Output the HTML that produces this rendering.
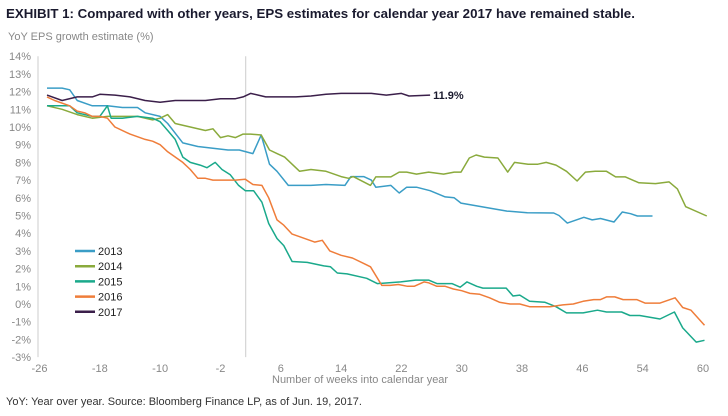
<!DOCTYPE html>
<html><head><meta charset="utf-8"><style>
body{margin:0;background:#fff;font-family:"Liberation Sans",sans-serif;}
#wrap{position:relative;width:728px;height:416px;overflow:hidden}
.t{position:absolute;white-space:nowrap}
</style></head><body>
<div id="wrap">
<div class="t" style="left:6px;top:6px;font-size:13.3px;font-weight:bold;color:#1a1a2e">EXHIBIT 1: Compared with other years, EPS estimates for calendar year 2017 have remained stable.</div>
<div class="t" style="left:8px;top:31px;font-size:11px;color:#888">YoY EPS growth estimate (%)</div>
<div class="t" style="left:272px;top:374px;font-size:11px;color:#888">Number of weeks into calendar year</div>
<div class="t" style="left:6px;top:396px;font-size:11px;color:#333">YoY: Year over year. Source: Bloomberg Finance LP, as of Jun. 19, 2017.</div>
<svg id="svg" width="728" height="416" style="position:absolute;left:0;top:0"></svg>
</div>
<script>
const yTicks=[14,13,12,11,10,9,8,7,6,5,4,3,2,1,0,-1,-2,-3];
const xTicks=[-26,-18,-10,-2,6,14,22,30,38,46,54,62];
const xTickLabels=["-26","-18","-10","-2","6","14","22","30","38","46","54","60"];
const seriesNames=["2013","2014","2015","2016","2017"];
const w2013=[-25,-23,-22,-21,-19,-17,-15,-13,-12,-10,-9,-7,-5,-3,-1,0.5,2.3,3.4,4.5,5.5,7,10,12,14.5,15.3,17,18,18.6,20.6,21.7,22.7,24,25.8,27.8,29,29.9,33.9,36,38.7,42.2,42.9,44,46.2,47.3,48.4,50.2,51.3,52.4,53.3,55.3];
const v2013=[12.2,12.2,12.1,11.5,11.2,11.2,11.1,11.1,10.8,10.6,10.2,9.1,8.9,8.8,8.7,8.7,8.5,9.55,7.9,7.5,6.7,6.7,6.75,6.7,7.2,7.2,7.0,6.6,6.7,6.27,6.6,6.6,6.4,6.05,6.0,5.7,5.4,5.25,5.15,5.14,5.0,4.57,4.9,4.75,4.83,4.63,5.2,5.1,4.97,4.97];
const w2014=[-25,-23,-21,-19,-17,-15,-13,-11,-10,-9,-8,-6,-4,-3,-2,-1,0,1,2,3.4,4.5,5.5,6.5,8.5,10,12,14,15,15.6,17,17.9,18.6,20.6,21.7,22.7,24,25.6,27.6,29,29.9,31,31.9,33,34.8,36.1,37,38.8,40.1,41.2,42.5,43.9,45.3,46.4,47.7,49.2,50.4,51.7,53.5,55.7,57.5,58.6,59.7,62.5];
const v2014=[11.2,11.0,10.7,10.5,10.6,10.6,10.6,10.4,10.5,10.7,10.2,10.0,9.8,9.9,9.4,9.5,9.4,9.6,9.6,9.55,8.7,8.5,8.3,7.5,7.6,7.5,7.2,7.1,7.2,6.9,6.7,7.18,7.18,7.45,7.45,7.34,7.45,7.34,7.45,7.45,8.25,8.42,8.3,8.25,7.45,8.0,7.9,7.9,8.0,7.85,7.5,6.95,7.45,7.5,7.5,7.18,7.18,6.85,6.8,6.9,6.5,5.5,4.97];
const w2015=[-25,-22,-21,-19,-18,-17,-16.5,-15,-13,-11,-10,-9,-8,-7,-6,-4.7,-3.8,-2.7,-1.8,-0.7,0.4,1.3,2.4,3.5,4.4,5.5,6.4,7.5,9.5,11.7,12.6,13.5,14.8,17.4,18.8,21.9,23.9,25.6,26.7,28.7,29.8,30.7,32,32.8,35.9,36.8,37.7,39,41,42.5,43.9,46.1,48,49.2,51.2,52.3,53.6,56.3,58.2,59.3,61.1,62.2];
const v2015=[11.2,11.2,10.8,10.6,10.6,11.2,10.5,10.5,10.6,10.5,10.3,9.8,9.3,8.3,8.0,7.85,7.7,8.0,7.6,7.3,6.7,6.4,6.4,5.75,4.55,3.7,3.3,2.4,2.35,2.15,2.1,1.75,1.7,1.45,1.15,1.25,1.35,1.35,1.15,1.15,0.95,1.25,1.0,0.9,0.9,0.45,0.5,0.15,0.1,-0.15,-0.5,-0.5,-0.35,-0.45,-0.45,-0.65,-0.65,-0.85,-0.45,-1.35,-2.15,-2.05];
const w2016=[-25,-24,-22,-21,-20,-19,-18,-17,-16,-14,-12,-11,-10,-9,-7,-6,-5,-4,-3,0,1.3,2.3,3.5,4.4,5.5,6.4,7.5,8.5,10.5,11.5,12.5,14,15.5,17.2,17.9,19.4,20.5,21.6,22.8,23.7,25,25.6,26.7,27.8,28.9,30,31.1,32.4,33.7,35,36.4,37.7,39,41.7,43.4,44.8,46.1,47.5,48.4,49.2,50.3,51.4,53.2,54.3,56.3,58.3,59.3,60.4,62.2];
const v2016=[11.7,11.5,11.2,10.9,10.8,10.6,10.6,10.5,10.0,9.6,9.3,9.2,9.0,8.6,8.0,7.6,7.1,7.1,7.0,7.0,7.05,6.75,6.7,6.0,4.75,4.45,3.95,3.8,3.5,3.6,3.0,2.75,2.6,2.25,2.1,1.05,1.05,1.1,1.0,1.0,1.25,1.2,1.0,1.0,0.85,0.75,0.6,0.55,0.35,0.1,0.0,0.0,-0.15,-0.15,-0.05,0.0,0.15,0.25,0.25,0.4,0.4,0.25,0.25,0.05,0.05,0.35,-0.2,-0.35,-1.2];
const w2017=[-25,-23,-21,-19,-18,-16,-14,-12,-10,-8,-6,-4,-2,0,1,2,3,4,6,8,10,12,14,16,18,20,21,22,23,25.8];
const v2017=[11.8,11.5,11.7,11.7,11.85,11.8,11.7,11.5,11.4,11.5,11.5,11.5,11.6,11.6,11.7,11.9,11.8,11.7,11.7,11.7,11.75,11.85,11.9,11.9,11.9,11.8,11.85,11.9,11.75,11.8];
const colors=["#3a9dc6","#8aaa3c","#1aa98b","#ef7d3a","#3b1f4a"];
const NS="http://www.w3.org/2000/svg";
const svg=document.getElementById('svg');
const X=w=>39.5+(w+26)*7.54;
const Y=v=>304-v*17.7;
function mk(tag,attrs){const e=document.createElementNS(NS,tag);for(const k in attrs)e.setAttribute(k,attrs[k]);svg.appendChild(e);return e;}
let ax=mk('line',{x1:38,x2:38,y1:Y(14),y2:Y(-3),stroke:'#ccc','stroke-width':1});


let vl=mk('line',{x1:X(1.35),x2:X(1.35),y1:Y(14),y2:Y(-3),stroke:'#ccc','stroke-width':1});


yTicks.forEach(v=>{
 const t=mk('text',{x:31,y:Y(v)+4,'text-anchor':'end','font-size':11,fill:'#888','font-family':'Liberation Sans'});
 t.textContent=v+'%';
 
 
});
xTicks.forEach((w,i)=>{
 const t=mk('text',{x:X(w),y:Y(-3)+15,'text-anchor':'middle','font-size':11,fill:'#888','font-family':'Liberation Sans'});
 t.textContent=xTickLabels[i];
 
 
});
const W=[w2013,w2014,w2015,w2016,w2017],V=[v2013,v2014,v2015,v2016,v2017];
W.forEach((ws,s)=>{
 const d=ws.map((w,i)=>(i?'L':'M')+X(w).toFixed(1)+','+Y(V[s][i]).toFixed(1)).join('');
 const p=mk('path',{d:d,fill:'none',stroke:colors[s],'stroke-width':1.5,'stroke-linejoin':'round'});
 
 
});
const lastW=w2017[w2017.length-1],lastV=v2017[v2017.length-1];
const lb=mk('text',{x:X(lastW)+3,y:Y(lastV)+4,'font-size':11,'font-weight':'bold',fill:'#1a1a2e','font-family':'Liberation Sans'});
lb.textContent='11.9%';


seriesNames.forEach((n,i)=>{
 const y=251+i*15.2;
 const l=mk('line',{x1:75,x2:95,y1:y,y2:y,stroke:colors[i],'stroke-width':2.5});
 
 
 const t=mk('text',{x:98,y:y+4,'font-size':11,fill:'#222','font-family':'Liberation Sans'});
 t.textContent=n;
 
 
});
</script>
</body></html>
